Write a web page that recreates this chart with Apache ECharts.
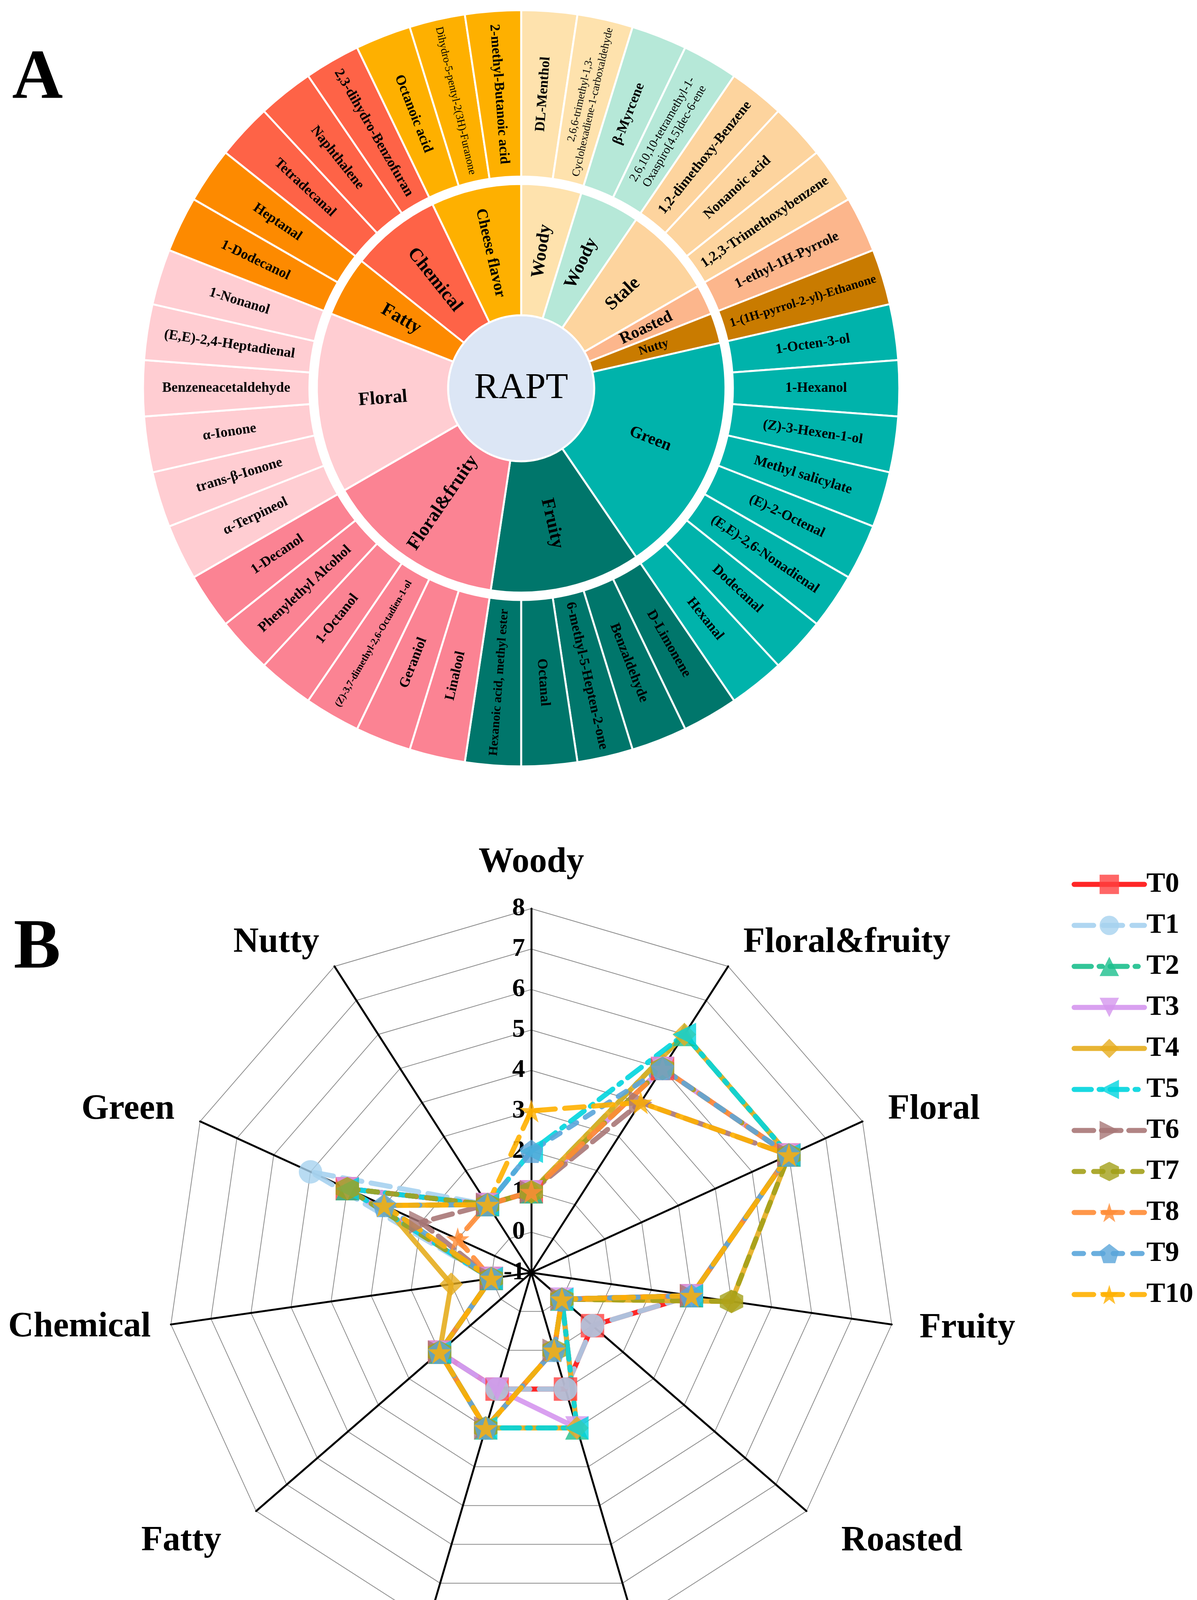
<!DOCTYPE html>
<html><head><meta charset="utf-8">
<script src="https://cdn.jsdelivr.net/npm/echarts@6/dist/echarts.min.js"></script>
<style>html,body{margin:0;padding:0;background:#fff}#c{width:3064px;height:4332px}</style>
</head><body><div id="c"></div>
<script>
// ---------- Panel A : sunburst data ----------
const rootName = 'RAPT';
const groupNames = ['Woody','Woody','Stale','Roasted','Nutty','Green','Fruity','Floral&fruity','Floral','Fatty','Chemical','Cheese flavor'];
const groupLeaves = [
  ['DL-Menthol','2,6,6-trimethyl-1,3-\nCyclohexadiene-1-carboxaldehyde'],
  ['β-Myrcene','2,6,10,10-tetramethyl-1-\nOxaspiro[4.5]dec-6-ene'],
  ['1,2-dimethoxy-Benzene','Nonanoic acid','1,2,3-Trimethoxybenzene'],
  ['1-ethyl-1H-Pyrrole'],
  ['1-(1H-pyrrol-2-yl)-Ethanone'],
  ['1-Octen-3-ol','1-Hexanol','(Z)-3-Hexen-1-ol','Methyl salicylate','(E)-2-Octenal','(E,E)-2,6-Nonadienal','Dodecanal','Hexanal'],
  ['D-Limonene','Benzaldehyde','6-methyl-5-Hepten-2-one','Octanal','Hexanoic acid, methyl ester'],
  ['Linalool','Geraniol','(Z)-3,7-dimethyl-2,6-Octadien-1-ol','1-Octanol','Phenylethyl Alcohol','1-Decanol'],
  ['α-Terpineol','trans-β-Ionone','α-Ionone','Benzeneacetaldehyde','(E,E)-2,4-Heptadienal','1-Nonanol'],
  ['1-Dodecanol','Heptanal'],
  ['Tetradecanal','Naphthalene','2,3-dihydro-Benzofuran'],
  ['Octanoic acid','Dihydro-5-pentyl-2(3H)-Furanone','2-methyl-Butanoic acid']
];

// ---------- Panel B : radar data (indicators in counter-clockwise order from top) ----------
const radarAxes = ['Woody','Nutty','Green','Chemical','Fatty','Stale','Cheese','Roasted','Fruity','Floral','Floral&fruity'];
const axisMin = -1, axisMax = 8;
const seriesNames = ['T0','T1','T2','T3','T4','T5','T6','T7','T8','T9','T10'];
const T0  = [1,1,4,0,2,2,2,1,3,6,5];
const T1  = [1,1,5,0,2,2,2,1,3,6,5];
const T2  = [1,1,4,0,2,3,3,0,3,6,6];
const T3  = [1,1,4,0,2,2,3,0,3,6,5];
const T4  = [1,1,3,1,2,3,3,0,4,6,6];
const T5  = [2,1,4,0,2,3,3,0,3,6,6];
const T6  = [1,1,2,0,2,3,1,0,3,6,4];
const T7  = [1,1,4,0,2,3,1,0,4,6,5];
const T8  = [1,1,1,0,2,3,1,0,3,6,5];
const T9  = [2,1,3,0,2,3,1,0,3,6,5];
const T10 = [3,1,3,0,2,3,1,0,3,6,4];
const radarValues = [T0,T1,T2,T3,T4,T5,T6,T7,T8,T9,T10];

// ---------- styles ----------
const FONT = 'Liberation Serif';
const groupColors = ['#fee2ad','#b6e8d8','#fdd49e','#fcb68c','#c97b00','#00b3ab','#00766b','#fb8393','#ffcdd2','#fd8a00','#fe6347','#feb000'];
const innerFont = {'Cheese flavor':40,'Roasted':42,'Nutty':32,'Green':42,'Woody':46};
const lightLeaves = {'Dihydro-5-pentyl-2(3H)-Furanone':1};
// axis-name placement tweaks (style only)
const nameLayout = {
  'Chemical': {nameGap:52},
  'Fatty': {nameGap:118},
  'Roasted': {nameGap:118},
  'Stale': {nameGap:158, nameTextStyle:{align:'center'}},
  'Cheese': {nameGap:158, nameTextStyle:{align:'left'}}
};

function polyPath(n, r2){
  const pts=[];
  const m = r2 ? n*2 : n;
  for(let k=0;k<m;k++){
    const r = (r2 && k%2) ? r2 : 1;
    const a = -Math.PI/2 + k*2*Math.PI/m;
    pts.push((k?'L':'M')+(r*Math.cos(a)).toFixed(4)+','+(r*Math.sin(a)).toFixed(4));
  }
  return 'path://'+pts.join(' ')+'Z';
}
const STAR = polyPath(5, 0.382);
const HEX = polyPath(6);
const PENT = polyPath(5);

const seriesStyles = [
  {color:'#ff1010', mark:'#ff4040', symbol:'rect', rotate:0, dash:'solid'},
  {color:'#a6d2ef', mark:'#a6d2ef', symbol:'circle', rotate:0, dash:[50,24]},
  {color:'#1cbf8d', mark:'#1cbf8d', symbol:'triangle', rotate:0, dash:[44,20,8,20]},
  {color:'#d596ee', mark:'#d596ee', symbol:'triangle', rotate:180, dash:'solid'},
  {color:'#e6ad1e', mark:'#e6ad1e', symbol:'diamond', rotate:0, dash:'solid'},
  {color:'#00d5de', mark:'#00d5de', symbol:'triangle', rotate:90, dash:[44,20,8,20]},
  {color:'#a87777', mark:'#a87777', symbol:'triangle', rotate:-90, dash:[50,20]},
  {color:'#a3a019', mark:'#a3a019', symbol:HEX, rotate:0, dash:[24,26]},
  {color:'#ff8c36', mark:'#ff8c36', symbol:STAR, rotate:0, dash:[50,24]},
  {color:'#5aa5da', mark:'#5aa5da', symbol:PENT, rotate:0, dash:[24,26]},
  {color:'#ffb000', mark:'#ffb000', symbol:STAR, rotate:0, dash:[50,24]}
];

function leafLabel(name){
  const lines = name.split('\n');
  const L = Math.max.apply(null, lines.map(s=>s.length));
  let fs = Math.floor(400/(L*0.46));
  fs = Math.min(lines.length>1 ? 31 : 36, fs);
  const bold = lines.length===1 && !lightLeaves[name];
  return {fontSize: fs, fontWeight: bold ? 'bold' : 'normal', lineHeight: Math.round(fs*1.15)};
}

const sunData = [{
  name: rootName,
  itemStyle: {color:'#dce6f5'},
  label: {rotate:0, fontSize:94, fontWeight:'normal'},
  children: groupNames.map((g,i)=>({
    name: g,
    itemStyle: {color: groupColors[i]},
    label: {fontSize: innerFont[g] || 48},
    children: groupLeaves[i].map(n=>({name:n, value:1, itemStyle:{color: groupColors[i]}, label: leafLabel(n)}))
  }))
}];

const LW = 13;
const radarData = radarValues.map((v,i)=>{
  const s = seriesStyles[i];
  return {
    name: seriesNames[i], value: v,
    symbol: s.symbol, symbolSize: 60, symbolRotate: s.rotate, symbolKeepAspect: true,
    lineStyle: {color: s.color, width: LW, type: s.dash, cap:'round', opacity: 0.9},
    itemStyle: {color: s.mark, opacity: 0.8}
  };
});

const legendSeries = seriesNames.map((n,i)=>{
  const s = seriesStyles[i];
  return {
    type:'line', name:n, data:[], xAxisIndex:0, yAxisIndex:0,
    symbol: s.symbol, symbolRotate: s.rotate,
    lineStyle: {color: s.color, width: LW, type: s.dash, cap:'round', opacity: 0.9},
    itemStyle: {color: s.mark, opacity: 0.8}
  };
});

const chart = echarts.init(document.getElementById('c'), null, {renderer:'canvas'});
chart.setOption({
  backgroundColor:'#ffffff',
  animation:false,
  title:[
    {text:'A', left:26, top:108, textStyle:{fontSize:180, fontWeight:'bold', fontFamily:FONT, color:'#000'}},
    {text:'B', left:30, top:2335, textStyle:{fontSize:180, fontWeight:'bold', fontFamily:FONT, color:'#000'}}
  ],
  grid:{left:0, top:0, width:1, height:1, show:false},
  xAxis:{type:'value', show:false},
  yAxis:{type:'value', show:false},
  legend:{
    data: seriesNames, orient:'vertical', left:2743, top:2228, padding:0,
    itemWidth:180, itemHeight:62, itemGap:33,
    lineStyle:{width:LW},
    textStyle:{fontSize:72, fontWeight:'bold', fontFamily:FONT, color:'#000'}
  },
  radar:{
    center:[1360,3258], radius:932, startAngle:90, shape:'polygon', splitNumber:9,
    indicator: radarAxes.map((n,i)=>{
      const ind = Object.assign({name:n, min:axisMin, max:axisMax}, nameLayout[n] || {});
      if(i===0) ind.axisLabel = {show:true, fontSize:66, fontWeight:'bold', fontFamily:FONT, color:'#000', margin:16};
      return ind;
    }),
    nameGap: 72,
    axisName:{color:'#000', fontSize:90, fontWeight:'bold', fontFamily:FONT},
    axisLine:{lineStyle:{color:'#000', width:5}},
    splitLine:{lineStyle:{color:'#8c8c8c', width:2}},
    splitArea:{show:false},
    axisTick:{show:false},
    axisLabel:{show:false}
  },
  series:[
    {
      type:'sunburst', center:[1334,994], startAngle:90, sort:null, nodeClick:false,
      data: sunData,
      itemStyle:{borderColor:'#ffffff', borderWidth:5},
      label:{rotate:'radial', color:'#000', fontFamily:FONT, fontWeight:'bold'},
      emphasis:{disabled:true},
      levels:[
        {},
        {r0:0, r:187, label:{rotate:0}},
        {r0:187, r:523},
        {r0:542, r:968}
      ]
    },
    {type:'radar', z:3, data: radarData, lineStyle:{width:LW}, emphasis:{disabled:true}}
  ].concat(legendSeries)
});
</script></body></html>
